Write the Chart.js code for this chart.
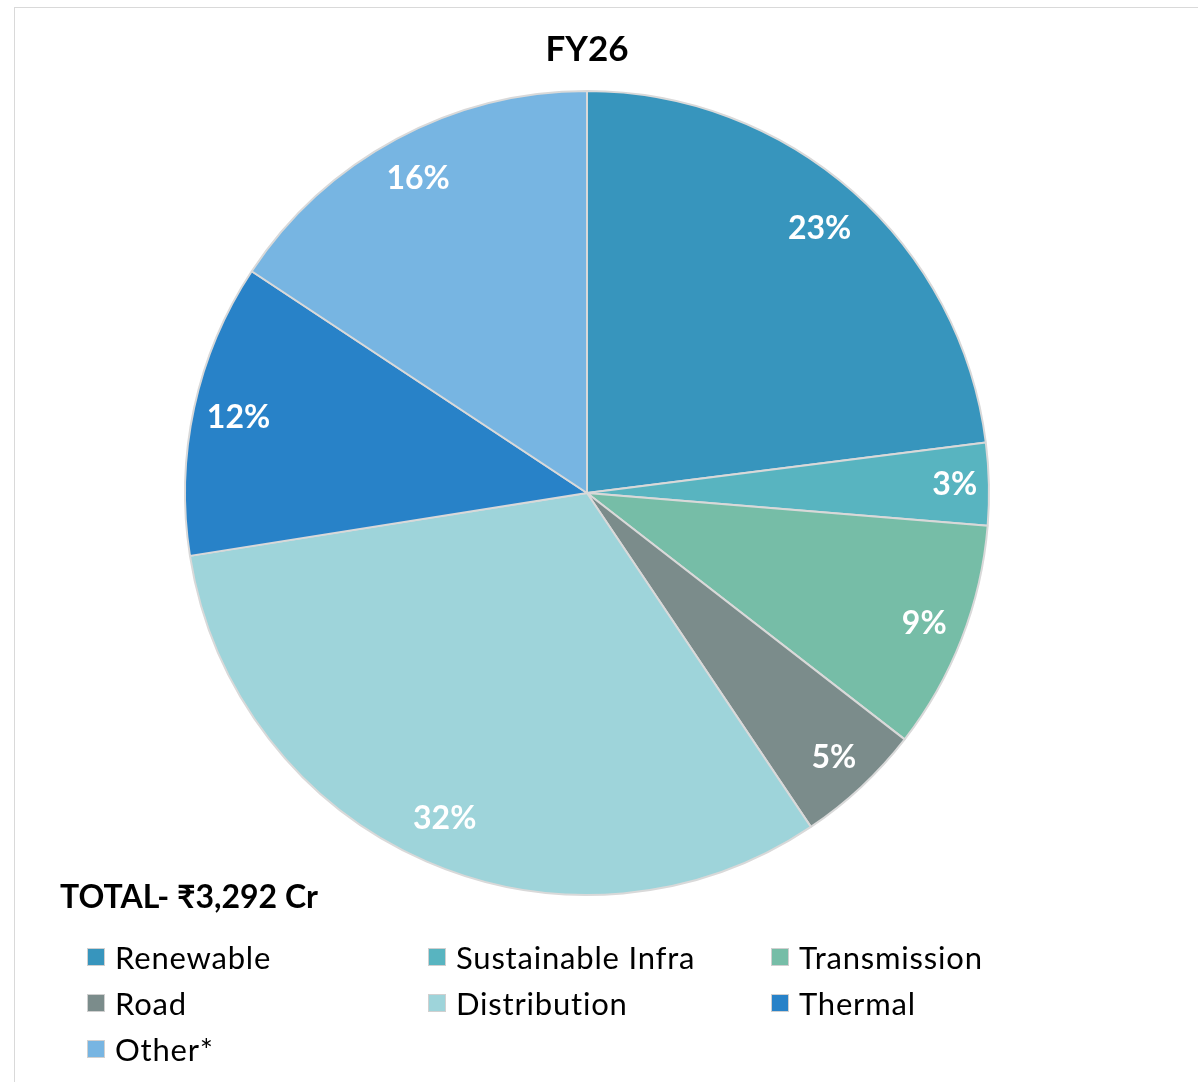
<!DOCTYPE html>
<html>
<head>
<meta charset="utf-8">
<script src="https://cdn.jsdelivr.net/npm/chart.js@4.4.0/dist/chart.umd.min.js"></script>
<style>
  html, body { margin: 0; padding: 0; background: #fff; }
  body { width: 1198px; height: 1082px; position: relative; overflow: hidden; font-family: Lato, "Open Sans", sans-serif; }
  #frame { position: absolute; left: 14px; top: 7px; width: 1200px; height: 1100px; border: 1px solid #d9d9d9; box-sizing: border-box; }
  #chart { position: absolute; left: 0; top: 0; }
  #title { position: absolute; left: 0; width: 1174px; top: 26px; text-align: center; font-weight: bold; font-size: 35px; color: #000; }
  #total { position: absolute; left: 60px; top: 876px; font-weight: bold; font-size: 32px; color: #000; }
  .item { position: absolute; font-size: 31px; letter-spacing: 0.8px; color: #000; line-height: 36px; white-space: nowrap; }
  .item span.box { position: absolute; left: 0; top: 9px; width: 16px; height: 16px; border: 1px solid #d0d0d0; }
  .item span.txt { position: absolute; left: 28px; top: 0; }
</style>
</head>
<body>
<div id="frame"></div>
<canvas id="chart" width="1198" height="1082"></canvas>
<div id="title">FY26</div>
<div id="total">TOTAL- ₹3,292 Cr</div>
<div id="legend"></div>
<script>
const categories = ['Renewable', 'Sustainable Infra', 'Transmission', 'Road', 'Distribution', 'Thermal', 'Other*'];
const shares = [23.0, 3.3, 9.2, 5.1, 31.9, 11.8, 15.7];
const colors = ['#3795bd', '#58b4c0', '#76bda7', '#7b8c8b', '#9ed4da', '#2882c8', '#77b5e2'];

// how far out each % label sits (fraction of radius), like excel's "best fit"
const labelPos = [0.875, 0.915, 0.9, 0.9, 0.885, 0.887, 0.887];

const legendCols = [87, 428, 771];
const legendRows = [939, 985, 1031];

const legend = document.getElementById('legend');
categories.forEach((c, i) => {
    const el = document.createElement('div');
    el.className = 'item';
    el.style.left = legendCols[i % 3] + 'px';
    el.style.top = legendRows[Math.floor(i / 3)] + 'px';
    el.innerHTML = '<span class="box" style="background:' + colors[i] + '"></span><span class="txt">' + c + '</span>';
    legend.appendChild(el);
});

const pctLabels = {
    id: 'pctLabels',
    afterDatasetsDraw(chart) {
        const ctx = chart.ctx;
        const meta = chart.getDatasetMeta(0);
        ctx.save();
        ctx.fillStyle = '#fff';
        ctx.font = 'bold 32px Lato';
        ctx.textAlign = 'center';
        ctx.textBaseline = 'middle';
        meta.data.forEach((arc, i) => {
            const p = arc.getProps(['x', 'y', 'startAngle', 'endAngle', 'outerRadius'], true);
            const mid = (p.startAngle + p.endAngle) / 2;
            const r = p.outerRadius * labelPos[i];
            ctx.fillText(Math.round(shares[i]) + '%', p.x + Math.cos(mid) * r, p.y + Math.sin(mid) * r);
        });
        ctx.restore();
    }
};

new Chart(document.getElementById('chart'), {
    type: 'pie',
    data: {
        labels: categories,
        datasets: [{
            data: shares,
            backgroundColor: colors,
            borderColor: '#d9d9d9',
            borderWidth: 2
        }]
    },
    options: {
        responsive: false,
        animation: false,
        layout: { padding: { left: 184, right: 208, top: 90, bottom: 186 } },
        plugins: {
            legend: { display: false },
            tooltip: { enabled: false }
        }
    },
    plugins: [pctLabels]
});
</script>
</body>
</html>
